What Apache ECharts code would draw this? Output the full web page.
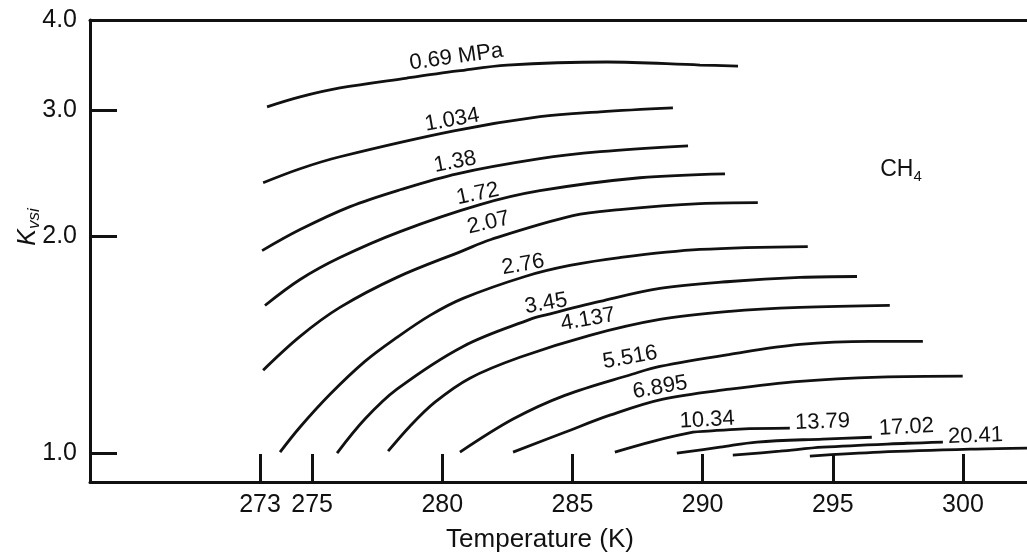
<!DOCTYPE html>
<html>
<head>
<meta charset="utf-8">
<title>Kvsi of CH4 vs temperature</title>
<script src="https://cdn.jsdelivr.net/npm/echarts@6/dist/echarts.min.js"></script>
<style>
  html, body { margin: 0; padding: 0; background: #fff; }
  #chart { width: 1027px; height: 558px; }
</style>
</head>
<body>
<div id="chart"></div>
<script>
const FONT = '"Liberation Sans", Arial, Helvetica, sans-serif';
const INK = '#111';

// Axis ticks
const tempTicks = [273, 275, 280, 285, 290, 295, 300];
const kTicks = [1, 2, 3];
const kLabels = [1, 2, 3, 4];

// Pressure of each isobar
const pressures = ['0.69 MPa', '1.034', '1.38', '1.72', '2.07', '2.76', '3.45',
  '4.137', '5.516', '6.895', '10.34', '13.79', '17.02', '20.41'];

// Isobars: [temperature K, Kvsi]
const p0690 = [[273.27, 3.029], [274.54, 3.127], [276.07, 3.218], [278.65, 3.322], [280.60, 3.398],
  [282.49, 3.463], [286.33, 3.497], [289.90, 3.463], [291.36, 3.452]];
const p1034 = [[273.12, 2.376], [274.54, 2.485], [276.07, 2.582], [280.45, 2.805], [283.75, 2.935],
  [286.06, 2.981], [288.86, 3.019]];
const p1380 = [[273.08, 1.912], [274.54, 2.045], [276.46, 2.201], [278.38, 2.323], [280.57, 2.445],
  [283.75, 2.566], [286.06, 2.624], [289.44, 2.674]];
const p1720 = [[273.19, 1.604], [274.54, 1.743], [276.07, 1.870], [278.38, 2.032], [281.45, 2.215],
  [283.75, 2.316], [287.59, 2.414], [290.86, 2.445]];
const p2070 = [[273.12, 1.304], [274.54, 1.453], [276.07, 1.594], [278.26, 1.755], [280.80, 1.912],
  [281.87, 1.981], [285.02, 2.138], [286.82, 2.180], [289.90, 2.222], [292.12, 2.229]];
const p2760 = [[273.77, 1.003], [274.54, 1.087], [275.69, 1.207], [277.03, 1.341], [278.26, 1.448],
  [279.53, 1.554], [280.80, 1.641], [283.18, 1.760], [284.90, 1.823], [286.82, 1.870],
  [289.90, 1.919], [294.04, 1.937]];
const p3450 = [[275.96, 1.000], [277.03, 1.115], [278.26, 1.227], [280.80, 1.407], [283.37, 1.534],
  [284.06, 1.559], [286.06, 1.625], [288.36, 1.694], [291.05, 1.732], [293.74, 1.755], [295.93, 1.760]];
const p4137 = [[277.92, 1.006], [278.76, 1.090], [279.72, 1.177], [281.06, 1.271], [282.98, 1.359],
  [285.67, 1.458], [288.36, 1.534], [291.05, 1.574], [293.74, 1.594], [297.19, 1.604]];
const p5516 = [[280.68, 1.003], [282.72, 1.115], [284.71, 1.203], [287.29, 1.287], [288.36, 1.320],
  [291.05, 1.372], [293.74, 1.416], [296.43, 1.430], [298.46, 1.430]];
const p6895 = [[282.72, 1.003], [284.71, 1.069], [286.44, 1.129], [288.44, 1.188], [291.05, 1.227],
  [293.74, 1.258], [296.81, 1.275], [299.99, 1.279]];
const p1034b = [[286.63, 1.003], [288.13, 1.039], [289.63, 1.069], [290.20, 1.073], [291.43, 1.080],
  [293.35, 1.083]];
const p1379 = [[289.01, 1.000], [290.67, 1.019], [292.09, 1.036], [294.62, 1.046], [296.50, 1.052]];
const p1702 = [[291.16, 0.9936], [292.97, 1.006], [294.62, 1.019], [297.85, 1.032], [299.23, 1.036]];
const p2041 = [[294.12, 0.9905], [296.81, 1.003], [300.50, 1.013], [302.46, 1.016]];

const isobars = [p0690, p1034, p1380, p1720, p2070, p2760, p3450, p4137, p5516, p6895,
  p1034b, p1379, p1702, p2041];

// Where each isobar carries its pressure label (temperature of the anchor point)
const labelAtT = [280.60, 280.45, 280.57, 281.45, 281.87, 283.18, 284.06, 285.67, 287.29, 288.44,
  290.20, 294.62, 297.85, 300.50];
const labelRotate = [8, 10, 11, 12, 13, 10, 10, 10, 10, 10, 3, 2, 3, 2];
const labelGap = [3, 0, 1, 0, 6, 1, 0, 5, 6, 1, 0, 6, 5, 2];

const chart = echarts.init(document.getElementById('chart'), null, { renderer: 'canvas' });

const series = isobars.map((pts, i) => ({
  type: 'line',
  name: pressures[i],
  smooth: 0.35,
  symbol: 'circle',
  symbolSize: 0,
  showSymbol: true,
  silent: true,
  lineStyle: { color: INK, width: 2.8 },
  itemStyle: { color: INK },
  emphasis: { disabled: true },
  label: { show: false },
  data: pts.map(p => p[0] === labelAtT[i] ? {
    value: p,
    label: {
      show: true,
      formatter: '{a}',
      position: 'top',
      distance: labelGap[i],
      rotate: labelRotate[i],
      color: INK,
      fontSize: 22,
      fontFamily: FONT
    }
  } : p)
}));

const option = {
  backgroundColor: '#fff',
  animation: false,
  grid: { left: 90, right: 0, top: 20, bottom: 75, containLabel: false },
  xAxis: [{
    type: 'value',
    min: 266.47,
    max: 302.46,
    position: 'bottom',
    name: 'Temperature (K)',
    nameLocation: 'middle',
    nameGap: 45,
    nameTextStyle: { color: INK, fontSize: 26, fontFamily: FONT, padding: [0, 37, 0, 0] },
    axisLine: { show: true, lineStyle: { color: INK, width: 3 } },
    axisTick: { show: true, inside: true, length: 28, customValues: tempTicks,
      lineStyle: { color: INK, width: 3 } },
    axisLabel: { customValues: tempTicks, color: INK, fontSize: 25, fontFamily: FONT, margin: 11 },
    splitLine: { show: false }
  }, {
    type: 'value',
    min: 266.47,
    max: 302.46,
    position: 'top',
    axisLine: { show: true, lineStyle: { color: INK, width: 3 } },
    axisTick: { show: false },
    axisLabel: { show: false },
    splitLine: { show: false }
  }],
  yAxis: {
    type: 'log',
    logBase: 10,
    min: 0.9116,
    max: 4,
    axisLine: { show: true, lineStyle: { color: INK, width: 3 } },
    axisTick: { show: true, inside: true, length: 27, customValues: kTicks,
      lineStyle: { color: INK, width: 3 } },
    axisLabel: { customValues: kLabels, formatter: v => Number(v).toFixed(1),
      color: INK, fontSize: 25, fontFamily: FONT, margin: 13 },
    splitLine: { show: false },
    minorTick: { show: false }
  },
  graphic: [{
    type: 'text',
    x: 28,
    y: 227,
    rotation: Math.PI / 2,
    style: {
      text: '{k|K}{s|vsi}',
      align: 'center',
      verticalAlign: 'middle',
      fill: INK,
      rich: {
        k: { fontSize: 25, fontStyle: 'italic', fontFamily: FONT, lineHeight: 30, fill: INK },
        s: { fontSize: 17, fontStyle: 'italic', fontFamily: FONT, lineHeight: 18,
          verticalAlign: 'bottom', fill: INK }
      }
    }
  }, {
    type: 'text',
    x: 901,
    y: 170,
    style: {
      text: '{m|CH}{s|4}',
      align: 'center',
      verticalAlign: 'middle',
      fill: INK,
      rich: {
        m: { fontSize: 23, fontFamily: FONT, lineHeight: 28, fill: INK },
        s: { fontSize: 15, fontFamily: FONT, lineHeight: 16, verticalAlign: 'bottom', fill: INK }
      }
    }
  }],
  series
};

chart.setOption(option);
</script>
</body>
</html>
